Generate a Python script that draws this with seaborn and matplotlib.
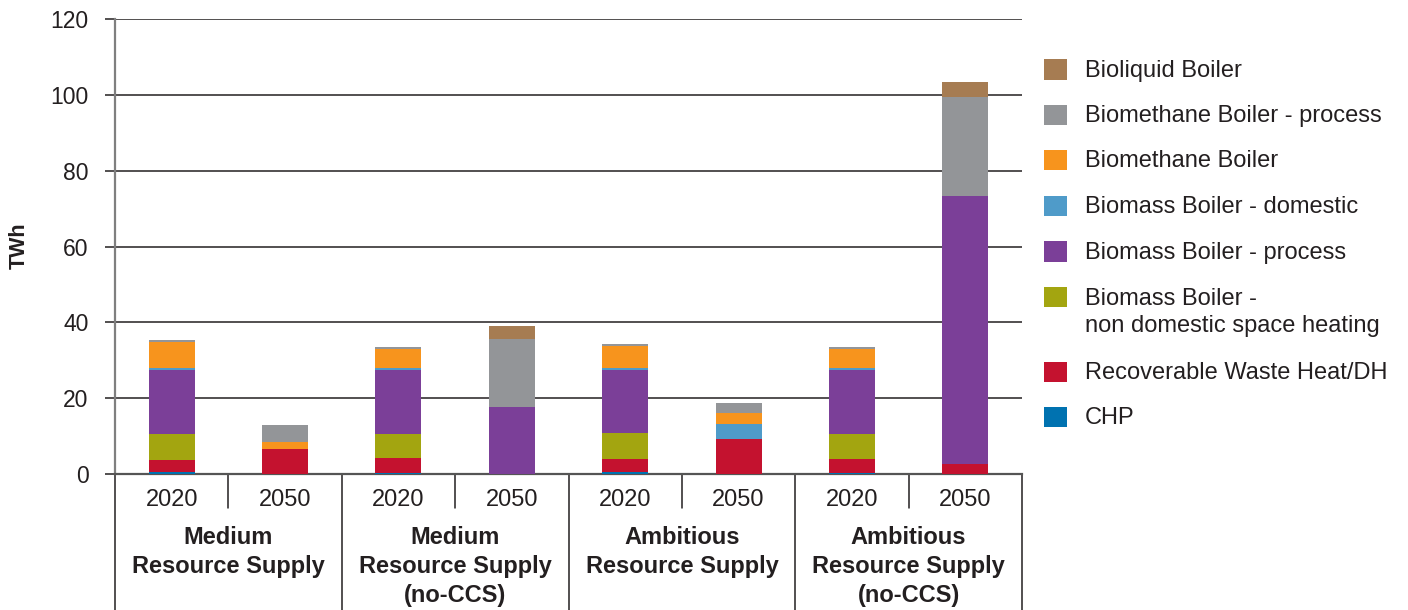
import matplotlib
matplotlib.use("Agg")
import matplotlib.pyplot as plt
from matplotlib.lines import Line2D
from matplotlib.patches import Rectangle
import numpy as np
import pandas as pd
import seaborn as sns

# ---- data (TWh) ----
scenarios = ["Medium\nResource Supply", "Medium\nResource Supply\n(no-CCS)",
             "Ambitious\nResource Supply", "Ambitious\nResource Supply\n(no-CCS)"]
years = ["2020", "2050"]

chp = [0.6, 0.0, 0.2, 0.0, 0.5, 0.0, 0.2, 0.0]
waste_heat = [3.0, 6.5, 4.0, 0.0, 3.4, 9.2, 3.8, 2.6]
biomass_nondomestic = [6.9, 0.0, 6.3, 0.0, 6.8, 0.0, 6.6, 0.0]
biomass_process = [16.9, 0.0, 16.9, 17.6, 16.7, 0.0, 16.9, 70.8]
biomass_domestic = [0.5, 0.0, 0.5, 0.0, 0.5, 3.9, 0.5, 0.0]
biomethane = [6.8, 1.9, 5.0, 0.0, 5.8, 2.9, 5.0, 0.0]
biomethane_process = [0.6, 4.5, 0.5, 18.0, 0.5, 2.7, 0.6, 25.9]
bioliquid = [0.0, 0.0, 0.0, 3.4, 0.0, 0.0, 0.0, 4.2]

# stacking order, bottom to top
series = [
    ("CHP", chp, "#0072B0"),
    ("Recoverable Waste Heat/DH", waste_heat, "#C4122F"),
    ("Biomass Boiler -\nnon domestic space heating", biomass_nondomestic, "#A3A510"),
    ("Biomass Boiler - process", biomass_process, "#7B3F98"),
    ("Biomass Boiler - domestic", biomass_domestic, "#4F9BC9"),
    ("Biomethane Boiler", biomethane, "#F7941D"),
    ("Biomethane Boiler - process", biomethane_process, "#939598"),
    ("Bioliquid Boiler", bioliquid, "#A67C52"),
]

bar_ids = [f"b{i}" for i in range(len(chp))]

sns.set_theme(style="white")
plt.rcParams["font.family"] = ["Liberation Sans", "DejaVu Sans"]

fig = plt.figure(figsize=(14.08, 6.10), dpi=100)
W, H = 1408, 610
ax_l, ax_r, ax_t, ax_b = 115, 1022, 19, 474
ax = fig.add_axes([ax_l / W, 1 - ax_b / H, (ax_r - ax_l) / W, (ax_b - ax_t) / H])

# stacked bars: draw cumulative totals from the top layer down
cum = np.cumsum(np.array([s[1] for s in series]), axis=0)
for k in range(len(series) - 1, -1, -1):
    df = pd.DataFrame({"bar": bar_ids, "value": cum[k]})
    sns.barplot(data=df, x="bar", y="value", order=bar_ids, color=series[k][2],
                saturation=1, width=0.405, linewidth=0, ax=ax, zorder=3)

ax.set_xlim(-0.5, 7.5)
ax.set_ylim(0, 120)
ax.set_yticks(np.arange(0, 121, 20))
ax.yaxis.grid(True, color="#231F20", linewidth=1.1, zorder=0)
ax.set_axisbelow(True)
ax.set_xticks([])
ax.set_xlabel("")
ax.set_ylabel("")
ax.tick_params(axis="y", direction="out", length=7, width=1.1, color="#231F20",
               labelsize=16.5, labelcolor="#231F20", pad=12, left=True)
for side in ("top", "right"):
    ax.spines[side].set_visible(False)
ax.spines["left"].set_color("#7F7F7F")
ax.spines["left"].set_linewidth(1.6)
ax.spines["bottom"].set_color("#555555")
ax.spines["bottom"].set_linewidth(1.6)

fig.text(19 / W, 1 - 246 / H, "TWh", rotation=90, ha="center", va="center",
         fontsize=15.5, fontweight="bold", color="#231F20")

# category frame below the axis
trans = ax.get_xaxis_transform()
axes_h = ax_b - ax_t
bottom_frac = -(H - ax_b) / axes_h
year_sep = -(508 - ax_b) / axes_h
for x in [-0.5, 1.5, 3.5, 5.5, 7.5]:
    ax.add_line(Line2D([x, x], [0, bottom_frac], transform=trans, color="#231F20",
                       linewidth=1.1, clip_on=False))
for x in [0.5, 2.5, 4.5, 6.5]:
    ax.add_line(Line2D([x, x], [0, year_sep], transform=trans, color="#231F20",
                       linewidth=1.1, clip_on=False))

year_y = -(500 - ax_b) / axes_h
for i in range(len(bar_ids)):
    ax.text(i, year_y, years[i % 2], transform=trans, ha="center", va="center",
            fontsize=17, color="#231F20")
grp_y = -(526 - ax_b) / axes_h
for g, name in enumerate(scenarios):
    ax.text(2 * g + 0.5, grp_y, name, transform=trans, ha="center", va="top",
            fontsize=17, fontweight="bold", color="#231F20", linespacing=1.32)

# legend, top to bottom
legend_rows = [69.5, 115, 160, 206, 251.5, 297, 372, 417]
for (label, _, color), yc in zip(series[::-1], legend_rows):
    fig.add_artist(Rectangle((1044 / W, 1 - (yc + 10) / H), 23 / W, 20 / H,
                             transform=fig.transFigure, facecolor=color,
                             edgecolor="none"))
    if "\n" in label:
        fig.text(1085 / W, 1 - (yc - 9) / H, label, ha="left", va="top",
                 fontsize=17, color="#231F20", linespacing=1.3)
    else:
        fig.text(1085 / W, 1 - (yc + 1) / H, label, ha="left", va="center",
                 fontsize=17, color="#231F20")

fig.savefig("out.png", dpi=100)
